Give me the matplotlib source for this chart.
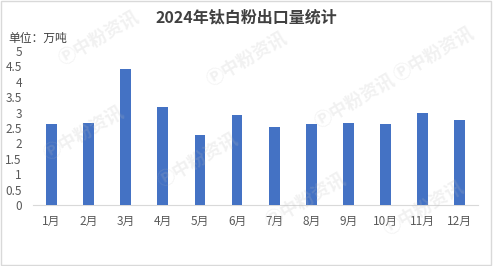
import numpy as np
import matplotlib.pyplot as plt
from matplotlib.patches import Rectangle

plt.rcParams['font.family'] = ['Noto Sans CJK SC', 'DejaVu Sans']

# monthly export volume, 10k tonnes
months = ['1月', '2月', '3月', '4月', '5月', '6月', '7月', '8月', '9月', '10月', '11月', '12月']
volume = [2.63, 2.67, 4.42, 3.18, 2.27, 2.92, 2.53, 2.63, 2.67, 2.63, 3.0, 2.76]
yticks = [0, 0.5, 1, 1.5, 2, 2.5, 3, 3.5, 4, 4.5, 5]

fig = plt.figure(figsize=(4.93, 2.66), dpi=100)
ax = fig.add_axes([0.067, 0.229, 0.903, 0.579])

x = np.arange(len(months))
ax.bar(x, volume, width=0.29, color='#4472C4', zorder=3)

ax.set_xlim(-0.5, len(months) - 0.5)
ax.set_ylim(0, 5)
ax.set_xticks(x)
ax.set_xticklabels(months)
ax.set_yticks(yticks)
ax.set_yticklabels([f'{v:g}' for v in yticks])
ax.tick_params(axis='both', length=0, labelsize=8.5, colors='#595959')
ax.tick_params(axis='y', pad=8)
ax.tick_params(axis='x', pad=7)
for s in ['top', 'right', 'left']:
    ax.spines[s].set_visible(False)
ax.spines['bottom'].set_color('#D9D9D9')

fig.text(0.5, 0.935, '2024年钛白粉出口量统计', ha='center', va='center',
         fontsize=11.5, fontweight='bold', color='#404040')
fig.text(0.016, 0.855, '单位：万吨', ha='left', va='center',
         fontsize=8.5, color='#404040')

# watermarks
for wx, wy in [(0.20, 0.86), (0.50, 0.78), (0.17, 0.50), (0.40, 0.40),
               (0.72, 0.62), (0.88, 0.80), (0.62, 0.25), (0.86, 0.22)]:
    fig.text(wx, wy, 'Ⓟ中粉资讯', ha='center', va='center', rotation=30,
             fontsize=13, fontweight='bold', color='#BBBBBB', alpha=0.2,
             zorder=10)

fig.patches.append(Rectangle((0.002, 0.004), 0.994, 0.992, transform=fig.transFigure,
                             fill=False, edgecolor='#D9D9D9', linewidth=1))

fig.savefig('out.png', dpi=100)
